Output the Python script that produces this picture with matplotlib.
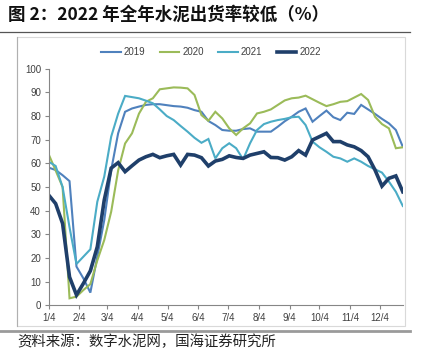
import matplotlib
matplotlib.use("Agg")
import matplotlib.pyplot as plt
from matplotlib.lines import Line2D
from matplotlib.patches import Rectangle
import numpy as np

plt.rcParams['font.family'] = ['Liberation Sans', 'Noto Sans CJK SC', 'DejaVu Sans']

# weekly observations, day offsets from Jan 4
week_days = [7 * i for i in range(52)]

tick_days = [0, 31, 59, 90, 120, 151, 181, 212, 243, 273, 304, 334]
tick_labels = ["1/4", "2/4", "3/4", "4/4", "5/4", "6/4", "7/4", "8/4", "9/4", "10/4", "11/4", "12/4"]

s2019 = [58.2, 57.2, 55.0, 52.5, 16.4, 11.4, 5.4, 20.6, 36.0, 57.2, 72.7, 81.8, 83.2, 84.0, 84.7, 85.0,
         85.0, 84.6, 84.2, 84.0, 83.5, 82.5, 81.8, 77.9, 76.2, 74.1, 73.8, 73.8, 74.5, 74.8, 73.4, 73.4,
         73.4, 75.5, 77.8, 79.7, 81.8, 83.2, 77.6, 80.0, 82.3, 79.5, 78.3, 81.4, 80.9, 84.7, 82.8, 80.9,
         78.8, 76.9, 74.1, 67.0]
s2020 = [63.8, 57.0, 50.0, 3.0, 3.7, 6.5, 9.0, 19.0, 27.6, 39.6, 57.0, 68.4, 72.7, 81.0, 86.0, 87.5,
         91.3, 91.7, 92.1, 92.0, 91.7, 88.9, 80.4, 78.0, 81.8, 79.0, 74.8, 72.0, 74.8, 76.9, 81.1, 81.8,
         82.8, 84.7, 86.6, 87.5, 87.8, 88.6, 87.1, 85.6, 84.2, 85.0, 86.0, 86.3, 87.8, 89.3, 86.8, 79.7,
         76.6, 74.8, 66.4, 66.8]
s2021 = [60.7, 58.9, 50.0, 33.0, 17.5, 20.6, 23.7, 43.8, 54.4, 71.3, 81.0, 88.5, 88.0, 87.5, 86.5, 85.4,
         82.8, 80.0, 78.3, 75.8, 73.4, 70.8, 68.7, 70.3, 62.1, 66.4, 68.5, 66.4, 61.7, 68.5, 74.1, 76.6,
         77.6, 78.3, 78.8, 79.5, 79.7, 76.2, 69.2, 66.8, 64.9, 62.8, 62.1, 60.7, 62.1, 60.7, 58.9, 57.5,
         56.1, 52.3, 48.0, 42.0]
s2022 = [46.6, 43.0, 34.6, 12.0, 4.4, 9.3, 14.6, 24.8, 44.5, 58.0, 60.3, 56.5, 59.0, 61.4, 62.8, 63.8,
         62.4, 63.2, 63.8, 59.3, 63.8, 63.5, 62.4, 58.9, 61.0, 61.7, 63.2, 62.5, 62.1, 63.5, 64.2, 64.9,
         62.5, 62.4, 61.4, 62.8, 65.4, 63.5, 69.9, 71.3, 72.7, 69.2, 69.2, 67.8, 67.0, 65.4, 62.8, 57.2,
         50.4, 53.7, 54.7, 48.0]

series = [("2019", s2019, "#4f81bd", 1.5),
          ("2020", s2020, "#9bbb59", 1.5),
          ("2021", s2021, "#4bacc6", 1.5),
          ("2022", s2022, "#1f3f6a", 2.6)]

W, H = 427, 358
fig = plt.figure(figsize=(W / 100, H / 100), dpi=100)

# frame / decorative lines
fig.add_artist(Line2D([0, 410 / W], [1 - 32.3 / H, 1 - 32.3 / H], color="#555555", lw=0.9))
fig.add_artist(Rectangle((16.5 / W, 1 - 326 / H), (405 - 16.5) / W, (326 - 37) / H,
                         fill=False, edgecolor="#d9d9d9", lw=0.8))
fig.add_artist(Line2D([16.5 / W, 16.5 / W], [1 - 326 / H, 1 - 37 / H], color="#b0b0b0", lw=0.8))
fig.add_artist(Line2D([0, 410 / W], [1 - 330.5 / H, 1 - 330.5 / H], color="#9a9a9a", lw=2.0))

fig.text(8 / W, 1 - 15 / H, "图 2：2022 年全年水泥出货率较低（%）", fontsize=12.6, fontweight="bold",
         ha="left", va="center", color="#111111",
         family=['Noto Sans CJK SC', 'DejaVu Sans'])
fig.text(17 / W, 1 - 342 / H, "资料来源：数字水泥网，国海证券研究所", fontsize=10.4,
         ha="left", va="center", color="#222222",
         family=['Noto Sans CJK SC', 'DejaVu Sans'])

left, right = 48.7 / W, 403.3 / W
bottom, top = 1 - 305.4 / H, 1 - 68.7 / H
ax = fig.add_axes([left, bottom, right - left, top - bottom])

for name, vals, col, lw in series:
    ax.plot(week_days, vals, color=col, lw=lw, label=name, solid_joinstyle="miter")

ax.set_xlim(0, 357.5)
ax.set_ylim(0, 100)
ax.set_yticks(range(0, 101, 10))
ax.set_xticks(tick_days)
ax.set_xticklabels(tick_labels)
for s in ["top", "right"]:
    ax.spines[s].set_visible(False)
for s in ["left", "bottom"]:
    ax.spines[s].set_color("#868686")
    ax.spines[s].set_linewidth(0.8)
ax.tick_params(axis="both", direction="out", length=3, width=0.8, color="#868686",
               labelsize=7, labelcolor="#404040", pad=2.5)

leg = ax.legend(ncol=4, loc="center", bbox_to_anchor=(211 / W, 1 - 52 / H),
                bbox_transform=fig.transFigure, frameon=False, fontsize=7,
                handlelength=2.0, handletextpad=0.3, columnspacing=1.5, borderaxespad=0)
for t in leg.get_texts():
    t.set_color("#404040")

fig.savefig("out.png", dpi=100)
